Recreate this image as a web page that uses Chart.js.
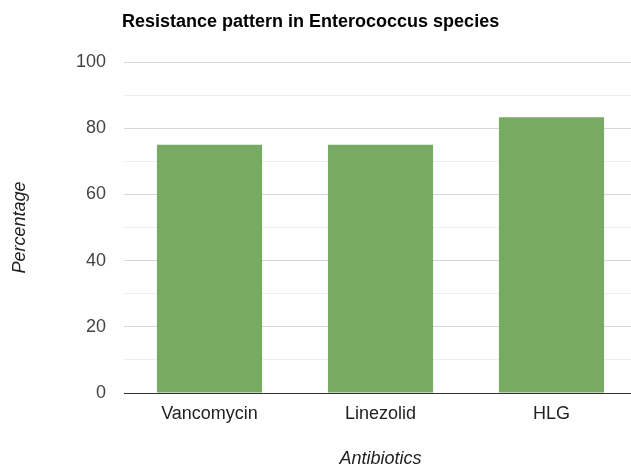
<!DOCTYPE html>
<html><head><meta charset="utf-8">
<script src="https://cdn.jsdelivr.net/npm/chart.js@4.4.1/dist/chart.umd.min.js"></script>
<style>html,body{margin:0;padding:0;background:#fff;overflow:hidden}#wrap{width:637px;height:465px}</style>
</head><body><div id="wrap"><canvas id="c"></canvas></div>
<script>
const categories = ["Vancomycin", "Linezolid", "HLG"];
const resistance = [75, 75, 83.3];
const yTicks = [0, 20, 40, 60, 80, 100];
const chartTitle = "Resistance pattern in Enterococcus species";
const FONT = "'Liberation Sans', Arial, sans-serif";

const titlePlugin = {
  id: 'leftTitle',
  afterDraw(chart) {
    const ctx = chart.ctx;
    ctx.save();
    ctx.font = "bold 18px " + FONT;
    ctx.fillStyle = "#000";
    ctx.textBaseline = "middle";
    ctx.textAlign = "left";
    ctx.fillText(chartTitle, 122, 22);
    ctx.restore();
  }
};

new Chart(document.getElementById('c'), {
  type: 'bar',
  data: {
    labels: categories,
    datasets: [{
      data: resistance,
      backgroundColor: '#77aa63',
      borderWidth: 0,
      categoryPercentage: 1,
      barPercentage: 0.615
    }]
  },
  plugins: [titlePlugin],
  options: {
    responsive: true,
    maintainAspectRatio: false,
    animation: false,
    layout: { padding: { top: 62, left: 9, right: 0, bottom: 0 } },
    plugins: { legend: { display: false }, tooltip: { enabled: false } },
    scales: {
      x: {
        grid: { display: false, drawTicks: false },
        border: { color: '#333', width: 1 },
        ticks: { color: '#222', font: { family: FONT, size: 18 }, padding: 10 },
        title: { display: true, text: 'Antibiotics', color: '#222', font: { family: FONT, size: 18, style: 'italic', lineHeight: 1 }, padding: { top: 22, bottom: -3 } },
        afterFit(s) { s.height = 72; }
      },
      y: {
        min: 0, max: 100,
        border: { display: false },
        grid: {
          drawTicks: false,
          color: c => (c.tick && c.tick.value === 0) ? '#333' : (c.tick && c.tick.value % 20 === 0 ? '#d6d6d6' : '#eeeeee'),
          lineWidth: 1
        },
        ticks: {
          stepSize: 10,
          color: '#444',
          font: { family: FONT, size: 18 },
          padding: 18,
          callback: v => yTicks.includes(v) ? String(v) : ''
        },
        title: { display: true, text: 'Percentage', color: '#222', font: { family: FONT, size: 18, style: 'italic' }, padding: { top: 0, bottom: 0 } },
        afterFit(s) { s.width = 115; }
      }
    }
  }
});
</script></body></html>
